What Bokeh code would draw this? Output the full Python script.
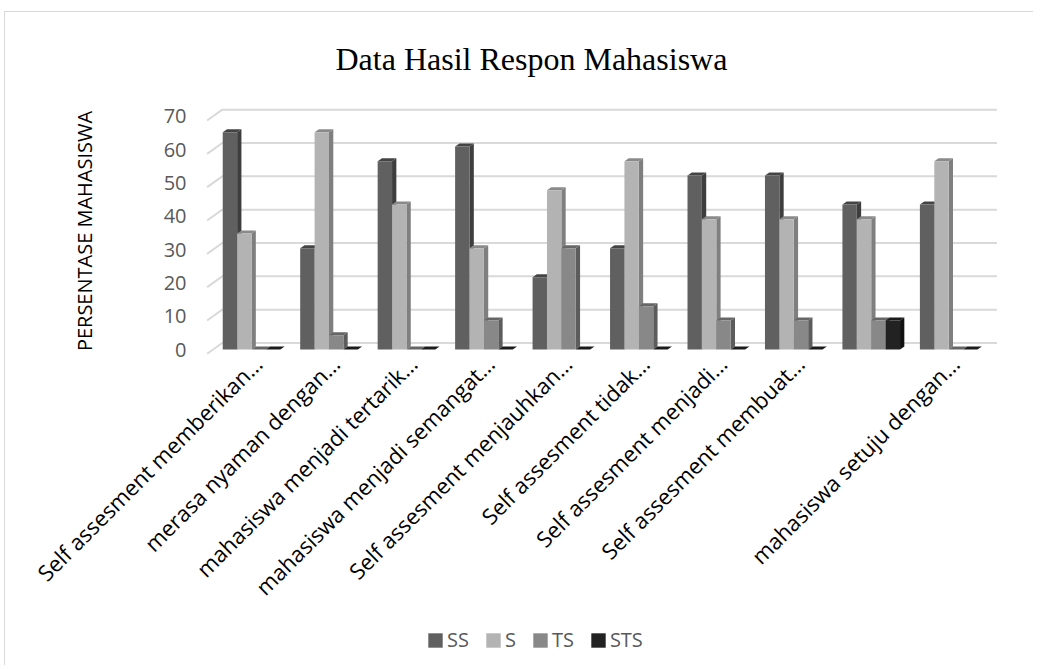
import math
from bokeh.plotting import figure
from bokeh.layouts import column
from bokeh.models import Range1d, FixedTicker, Legend, LegendItem, ColumnDataSource
from bokeh.embed import file_html
from bokeh.resources import INLINE

# ---------------- data ----------------
categories = [
    "Self assesment memberikan\u2026",
    "merasa nyaman dengan\u2026",
    "mahasiswa menjadi tertarik\u2026",
    "mahasiswa menjadi semangat\u2026",
    "Self assesment menjauhkan\u2026",
    "Self assesment tidak\u2026",
    "Self assesment menjadi\u2026",
    "Self assesment membuat\u2026",
    "",
    "mahasiswa setuju dengan\u2026",
]
series_names = ["SS", "S", "TS", "STS"]
SS = [65.2, 30.4, 56.5, 60.9, 21.7, 30.4, 52.2, 52.2, 43.5, 43.5]
S = [34.8, 65.2, 43.5, 30.4, 47.8, 56.5, 39.1, 39.1, 39.1, 56.5]
TS = [0.0, 4.3, 0.0, 8.7, 30.4, 13.0, 8.7, 8.7, 8.7, 0.0]
STS = [0.0, 0.0, 0.0, 0.0, 0.0, 0.0, 0.0, 0.0, 8.7, 0.0]
y_ticks = [0, 10, 20, 30, 40, 50, 60, 70]

# ---------------- styling / layout ----------------
front_colors = ["#606060", "#b3b3b3", "#888888", "#222222"]
side_colors = ["#3e3e3e", "#7f7f7f", "#5c5c5c", "#111111"]
top_colors = ["#444444", "#8a8a8a", "#666666", "#1b1b1b"]
BORDER = "#d9d9d9"

FIG_W, FIG_H = 1033, 622
LEG_H = 43
FR_L, FR_W = 203, 794
FR_T, FR_H = 105, 251
X_START, X_END = -0.12, 10.13
PX_Y = 3.333
ZERO_ABOVE_BOTTOM = 7
Y_START = -ZERO_ABOVE_BOTTOM / PX_Y
Y_END = Y_START + FR_H / PX_Y
PX_X = FR_W / (X_END - X_START)

BAR_W = 14.4 / PX_X
DEP_X, DEP_Y = 4.3 / PX_X, 2.9 / PX_Y
BACK_X, BACK_Y = 9.5 / PX_X, 6.5 / PX_Y
FRONT_X, FRONT_Y = -5.7 / PX_X, -4.3 / PX_Y
TICK_SHIFT = 0.08
LEGEND_X = 426

line_bg = "linear-gradient(%s,%s)" % (BORDER, BORDER)
p = figure(width=FIG_W, height=FIG_H, output_backend="svg", toolbar_location=None,
           x_range=Range1d(X_START, X_END), y_range=Range1d(Y_START, Y_END),
           min_border_left=FR_L, min_border_right=FIG_W - FR_L - FR_W,
           min_border_top=FR_T, min_border_bottom=FIG_H - FR_T - FR_H,
           styles={"background-image": line_bg + ", " + line_bg,
                   "background-size": "100% 1px, 1px 100%",
                   "background-position": "4px 11px, 4px 11px",
                   "background-repeat": "no-repeat"})
p.outline_line_color = None
p.background_fill_color = "white"
p.border_fill_alpha = 0
p.xgrid.visible = False
p.ygrid.visible = False

# title
p.title.text = "Data Hasil Respon Mahasiswa"
p.title.text_font = "Liberation Serif"
p.title.text_font_size = "32px"
p.title.text_font_style = "normal"
p.title.text_color = "#000000"
p.title.align = "left"
p.title.offset = 132
p.title.standoff = 58

# walls / gridlines
gx, gy = [], []
for t in y_ticks:
    gx.append([FRONT_X, BACK_X, 10 + BACK_X])
    gy.append([t + FRONT_Y, t + BACK_Y, t + BACK_Y])
p.multi_line(gx, gy, line_color="#d9d9d9", line_width=2)

# 3D bars
series_vals = [SS, S, TS, STS]
for si, (name, vals) in enumerate(zip(series_names, series_vals)):
    lefts, rights, tops = [], [], []
    sxs, sys_, txs, tys = [], [], [], []
    for ci, v in enumerate(vals):
        c = ci + 0.5
        l = c - 2 * BAR_W + si * BAR_W
        r = l + BAR_W
        lefts.append(l); rights.append(r); tops.append(v)
        sxs.append([r, r + DEP_X, r + DEP_X, r])
        sys_.append([0, DEP_Y, v + DEP_Y, v])
        txs.append([l, r, r + DEP_X, l + DEP_X])
        tys.append([v, v, v + DEP_Y, v + DEP_Y])
    p.patches(sxs, sys_, fill_color=side_colors[si], line_color=None)
    p.patches(txs, tys, fill_color=top_colors[si], line_color=None)
    src = ColumnDataSource(dict(left=lefts, right=rights, top=tops, bottom=[0] * len(vals)))
    p.quad(left="left", right="right", top="top", bottom="bottom", source=src,
           fill_color=front_colors[si], line_color=None)

# axes
xa = p.xaxis[0]
xa.ticker = FixedTicker(ticks=[i + 0.5 + TICK_SHIFT for i in range(len(categories))])
xa.major_label_overrides = {i + 0.5 + TICK_SHIFT: lab for i, lab in enumerate(categories)}
xa.major_label_orientation = math.pi / 4
xa.major_label_text_font = "Open Sans"
xa.major_label_text_font_size = "22px"
xa.major_label_text_color = "#000000"
xa.axis_line_color = None
xa.major_tick_line_color = None
xa.minor_tick_line_color = None
xa.major_label_standoff = -3

ya = p.yaxis[0]
ya.ticker = FixedTicker(ticks=y_ticks)
ya.major_label_text_font = "Open Sans"
ya.major_label_text_font_size = "20px"
ya.major_label_text_color = "#595959"
ya.axis_line_color = None
ya.major_tick_line_color = None
ya.minor_tick_line_color = None
ya.major_label_standoff = 11
ya.axis_label = "PERSENTASE MAHASISWA"
ya.axis_label_text_font = "Open Sans"
ya.axis_label_text_font_size = "20px"
ya.axis_label_text_font_style = "normal"
ya.axis_label_text_color = "#000000"
ya.axis_label_standoff = 63

# legend strip (separate figure below, frame aligned with the chart's frame)
pl = figure(width=FIG_W, height=LEG_H, output_backend="svg", toolbar_location=None,
            x_range=Range1d(0, 1), y_range=Range1d(0, 1),
            x_axis_type=None, y_axis_type=None, min_border=0,
            styles={"background-image": line_bg,
                    "background-size": "1px 100%",
                    "background-position": "4px 0px",
                    "background-repeat": "no-repeat"})
pl.outline_line_color = None
pl.border_fill_alpha = 0
pl.background_fill_color = "white"
pl.xgrid.visible = False
pl.ygrid.visible = False
pl.title.visible = False
items = []
for si, name in enumerate(series_names):
    r = pl.quad(left=[0], right=[0], top=[0], bottom=[0], fill_color=front_colors[si], line_color=None)
    items.append(LegendItem(label=name, renderers=[r]))
legend = Legend(items=items, orientation="horizontal", location=(LEGEND_X - FR_L, 12),
                border_line_color=None, background_fill_alpha=0, padding=0, margin=0,
                glyph_width=18, glyph_height=18, label_width=0, label_height=0,
                label_standoff=3, spacing=15,
                label_text_font="Open Sans", label_text_font_size="20px",
                label_text_color="#595959")
pl.add_layout(legend)

layout = column(p, pl, spacing=0)
open("out.html", "w").write(file_html(layout, INLINE))
